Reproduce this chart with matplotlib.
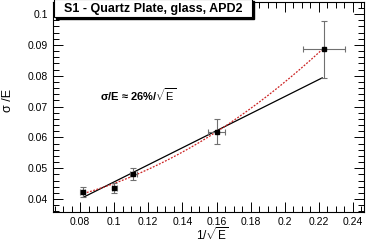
import matplotlib
matplotlib.use("Agg")
import matplotlib.pyplot as plt
import numpy as np
from matplotlib.ticker import MultipleLocator
from matplotlib.patches import Rectangle

# data
inv_sqrt_e = [0.0816, 0.100, 0.1112, 0.160, 0.2231]
sigma_e = [0.0422, 0.0436, 0.0482, 0.0618, 0.0885]
x_err = [0.0015, 0.0015, 0.002, 0.005, 0.0124]
y_err = [0.0016, 0.0015, 0.0020, 0.0040, 0.0091]

# fit parameters
lin_fit = [0.01794, 0.2764]            # intercept, slope
quad_fit = [0.037103, -0.04478, 1.2446]  # c0, c1, c2
fit_range = [0.082, 0.222]

title = "S1 - Quartz Plate, glass, APD2"
annot = r"$\mathbf{\sigma}$/E ≈ 26%/$\sqrt{\mathrm{E}}$"

plt.rcParams['font.family'] = ['Liberation Sans', 'DejaVu Sans']
plt.rcParams['mathtext.fontset'] = 'custom'
plt.rcParams['mathtext.rm'] = 'Liberation Sans'
plt.rcParams['mathtext.bf'] = 'Liberation Sans:bold'

fig = plt.figure(figsize=(3.71, 2.44), dpi=100)
ax = fig.add_axes([53/371, 1-212/244, (364-53)/371, (212-2)/244])

xs = np.linspace(fit_range[0], fit_range[1], 200)
ax.plot(xs, lin_fit[0] + lin_fit[1]*xs, color='black', lw=0.9, zorder=2)
ax.plot(xs, quad_fit[0] + quad_fit[1]*xs + quad_fit[2]*xs**2, color='#cc2222',
        lw=0.9, ls=(0, (1.5, 1.2)), zorder=3)
ax.errorbar(inv_sqrt_e, sigma_e, xerr=x_err, yerr=y_err, fmt='s', color='black',
            ms=3.5, ecolor='#707070', elinewidth=0.8, capsize=2, capthick=0.8, zorder=4)

ax.set_xlim(0.0641, 0.2465)
ax.set_ylim(0.0358, 0.1039)
ax.xaxis.set_major_locator(MultipleLocator(0.02))
ax.xaxis.set_minor_locator(MultipleLocator(0.005))
ax.yaxis.set_major_locator(MultipleLocator(0.01))
ax.yaxis.set_minor_locator(MultipleLocator(0.002))
ax.tick_params(which='both', direction='in', top=True, right=True, labelsize=7.5, width=0.7)
ax.tick_params(which='major', length=7)
ax.tick_params(which='minor', length=4)
ax.xaxis.set_major_formatter(matplotlib.ticker.FuncFormatter(lambda v, p: f"{v:g}"))
ax.yaxis.set_major_formatter(matplotlib.ticker.FuncFormatter(lambda v, p: f"{v:g}"))
for s in ax.spines.values():
    s.set_linewidth(0.8)

fig.text(8/371, 1-101/244, "σ /E", rotation=90, ha='center', va='center', fontsize=9)
fig.text(212/371, 1-243/244, r"1/$\sqrt{\mathrm{E}}$", ha='center', va='bottom', fontsize=8.5)

ax.text(0.0917, 0.0738, annot, fontsize=8, fontweight='bold', ha='left', va='center')

# title box with shadow
bx0, by0, bw, bh = 54/371, 1-17/244, 198/371, 18/244
fig.patches.append(Rectangle((bx0+2/371, by0-2/244), bw, bh, transform=fig.transFigure,
                             facecolor='black', edgecolor='black', zorder=10))
fig.patches.append(Rectangle((bx0, by0), bw, bh, transform=fig.transFigure,
                             facecolor='white', edgecolor='black', lw=0.8, zorder=11))
fig.text(bx0 + bw/2, by0 + bh/2 - 1/244, title, ha='center', va='center', fontsize=9,
         fontweight='bold', zorder=12)

fig.savefig("out.png", dpi=100)
